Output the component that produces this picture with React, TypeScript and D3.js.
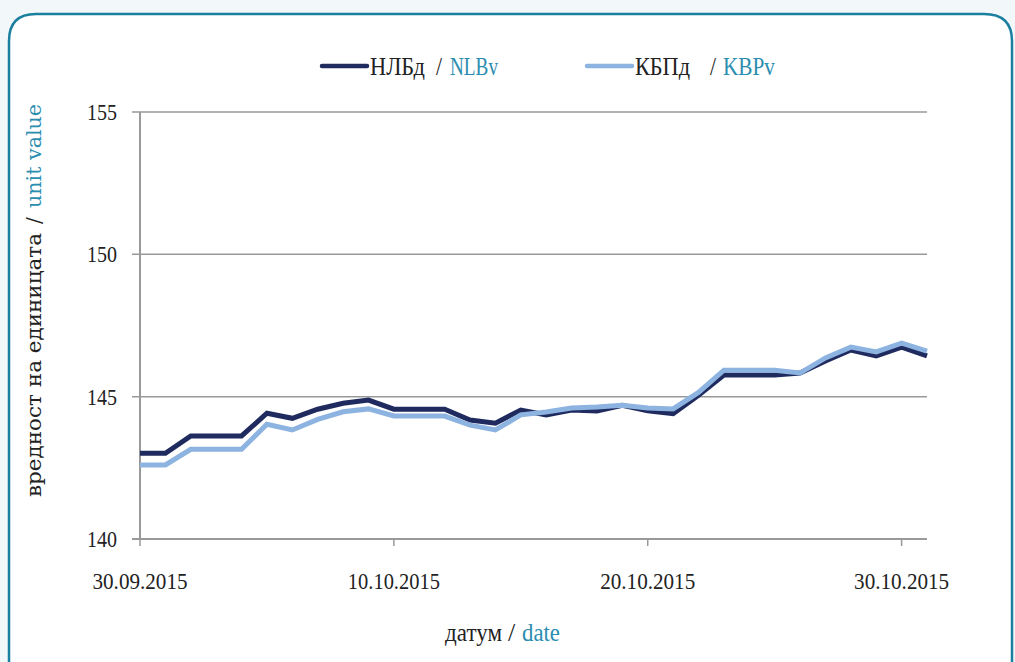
import React from "react";
import * as d3 from "d3";

const dates: string[] = [
  "30.09.2015", "01.10.2015", "02.10.2015", "03.10.2015", "04.10.2015", "05.10.2015",
  "06.10.2015", "07.10.2015", "08.10.2015", "09.10.2015", "10.10.2015", "11.10.2015",
  "12.10.2015", "13.10.2015", "14.10.2015", "15.10.2015", "16.10.2015", "17.10.2015",
  "18.10.2015", "19.10.2015", "20.10.2015", "21.10.2015", "22.10.2015", "23.10.2015",
  "24.10.2015", "25.10.2015", "26.10.2015", "27.10.2015", "28.10.2015", "29.10.2015",
  "30.10.2015", "31.10.2015",
];

const nlbValues: number[] = [
  143.01, 143.01, 143.62, 143.62, 143.62, 144.42, 144.24, 144.56, 144.77, 144.88,
  144.56, 144.56, 144.56, 144.18, 144.07, 144.53, 144.36, 144.53, 144.5, 144.7,
  144.5, 144.4, 145.05, 145.76, 145.76, 145.76, 145.83, 146.25, 146.64, 146.43,
  146.74, 146.43,
];

const kbpValues: number[] = [
  142.6, 142.6, 143.15, 143.15, 143.15, 144.03, 143.83, 144.2, 144.47, 144.57,
  144.32, 144.32, 144.32, 144.0, 143.83, 144.36, 144.46, 144.6, 144.64, 144.7,
  144.6, 144.57, 145.15, 145.93, 145.93, 145.93, 145.83, 146.36, 146.74, 146.57,
  146.88, 146.6,
];

const yTicks: number[] = [140, 145, 150, 155];
const xTickLabels: string[] = ["30.09.2015", "10.10.2015", "20.10.2015", "30.10.2015"];

const parse = d3.timeParse("%d.%m.%Y");

const W = 1015;
const H = 662;
const left = 140;
const right = 927;
const top = 112;
const bottom = 539;

const DARK = "#1f2a5e";
const LIGHT = "#8db3e0";
const TEAL = "#2b8db0";
const GRID = "#999999";
const FONT = "'Liberation Serif', serif";

export default function App() {
  const parsed = dates.map((d) => parse(d) as Date);
  const x = d3
    .scaleTime()
    .domain([parse("30.09.2015") as Date, parse("31.10.2015") as Date])
    .range([left, right]);
  const y = d3.scaleLinear().domain([140, 155]).range([bottom, top]);

  const line = d3
    .line<number>()
    .x((_, i) => x(parsed[i]))
    .y((v) => y(v));

  const legText = (tx: number, s: string, len: number, fill: string) => (
    <text
      x={tx}
      y={75}
      fontFamily={FONT}
      fontSize={26}
      fill={fill}
      textLength={len}
      lengthAdjust="spacingAndGlyphs"
    >
      {s}
    </text>
  );

  return (
    <svg
      width={W}
      height={H}
      style={{ position: "absolute", left: 0, top: 0, background: "#f2f7f9" }}
    >
      <path
        d={`M9,${H + 20} L9,41 Q9,14 36,14 L984,14 Q1012,14 1012,41 L1012,${H + 20}`}
        fill="#ffffff"
        stroke="#1b7f9f"
        strokeWidth={2.5}
      />

      {/* grid lines */}
      {yTicks.map((t) => (
        <line
          key={t}
          x1={left - 8}
          x2={right}
          y1={y(t)}
          y2={y(t)}
          stroke={GRID}
          strokeWidth={t === 140 ? 2 : 1.5}
        />
      ))}
      <line x1={left} x2={left} y1={top} y2={bottom} stroke={GRID} strokeWidth={2} />
      {xTickLabels.map((s) => {
        const xx = x(parse(s) as Date);
        return (
          <g key={s}>
            <line x1={xx} x2={xx} y1={bottom} y2={bottom + 7} stroke={GRID} strokeWidth={1.5} />
            <text
              x={xx}
              y={589}
              textAnchor="middle"
              fontFamily={FONT}
              fontSize={24}
              fill="#222"
              textLength={s.startsWith("1") ? 92 : 95}
              lengthAdjust="spacingAndGlyphs"
            >
              {s}
            </text>
          </g>
        );
      })}
      {yTicks.map((t) => (
        <text
          key={"l" + t}
          x={117}
          y={y(t) + 8}
          textAnchor="end"
          fontFamily={FONT}
          fontSize={24}
          fill="#222"
          textLength={30}
          lengthAdjust="spacingAndGlyphs"
        >
          {t}
        </text>
      ))}

      {/* series */}
      <path d={line(nlbValues) || ""} fill="none" stroke={DARK} strokeWidth={5} strokeLinejoin="miter" />
      <path d={line(kbpValues) || ""} fill="none" stroke={LIGHT} strokeWidth={5} strokeLinejoin="miter" />

      {/* legend */}
      <line x1={322} x2={367} y1={66} y2={66} stroke={DARK} strokeWidth={4.5} strokeLinecap="round" />
      {legText(370, "НЛБд", 55, "#222")}
      {legText(436, "/", 6, "#222")}
      {legText(450, "NLBv", 48, TEAL)}
      <line x1={587} x2={632} y1={66} y2={66} stroke={LIGHT} strokeWidth={4.5} strokeLinecap="round" />
      {legText(635, "КБПд", 55, "#222")}
      {legText(710, "/", 6, "#222")}
      {legText(723, "KBPv", 52, TEAL)}

      {/* y axis title */}
      <text
        transform="translate(41,497) rotate(-90)"
        fontFamily="'DejaVu Serif', serif"
        fontSize={20}
        fill="#222"
        textLength={264}
        lengthAdjust="spacingAndGlyphs"
      >
        вредност на единицата
      </text>
      <text
        transform="translate(41,224) rotate(-90)"
        fontFamily="'DejaVu Serif', serif"
        fontSize={20}
        fill="#222"
      >
        /
      </text>
      <text
        transform="translate(41,208) rotate(-90)"
        fontFamily="'DejaVu Serif', serif"
        fontSize={20}
        fill={TEAL}
        textLength={104}
        lengthAdjust="spacingAndGlyphs"
      >
        unit value
      </text>

      {/* x axis title */}
      <text
        x={445}
        y={641}
        fontFamily={FONT}
        fontSize={26}
        fill="#222"
        textLength={57}
        lengthAdjust="spacingAndGlyphs"
      >
        датум
      </text>
      <text x={508} y={641} fontFamily={FONT} fontSize={26} fill="#222">
        /
      </text>
      <text
        x={522}
        y={641}
        fontFamily={FONT}
        fontSize={26}
        fill={TEAL}
        textLength={38}
        lengthAdjust="spacingAndGlyphs"
      >
        date
      </text>
    </svg>
  );
}
